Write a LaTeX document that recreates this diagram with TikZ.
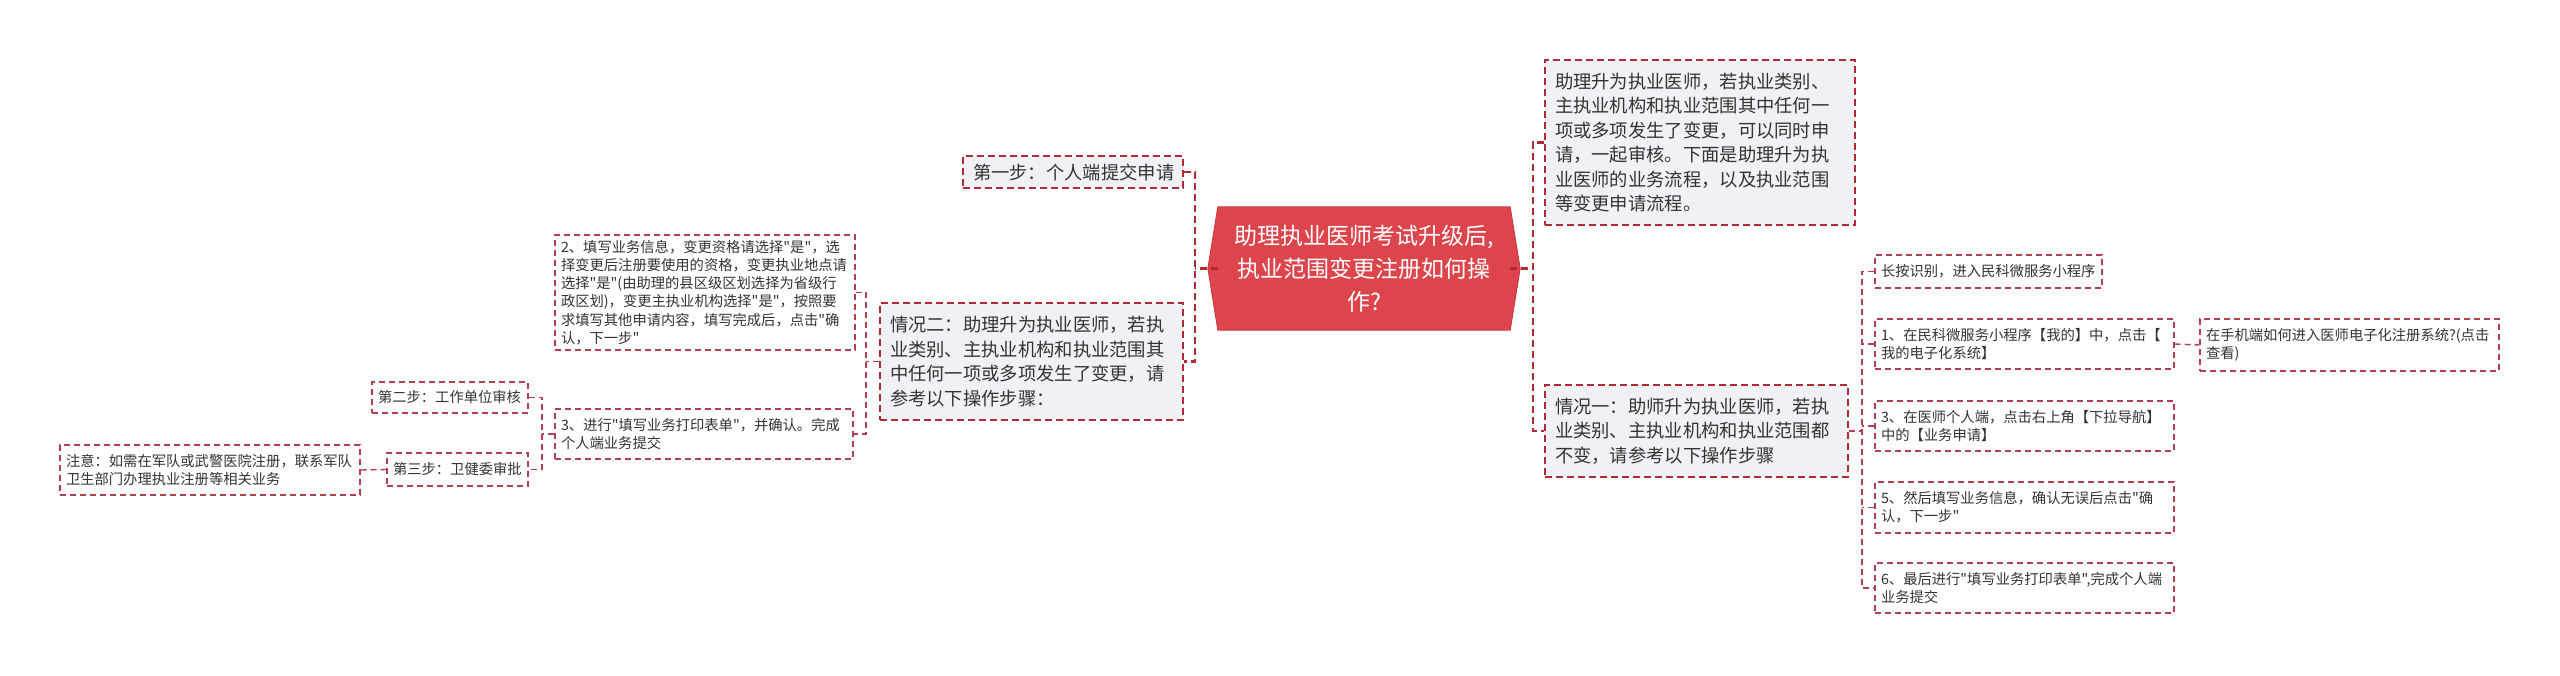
\documentclass[tikz,border=0pt]{standalone}
\usepackage{fontspec}
\setmainfont{Noto Sans CJK SC}[Ligatures=TeXOff]
\usetikzlibrary{backgrounds}
\definecolor{rootred}{RGB}{221,69,76}
\definecolor{rootedge}{RGB}{200,55,62}
\definecolor{lineA}{RGB}{178,40,52}
\definecolor{lineB}{RGB}{180,62,82}
\definecolor{boxgrey}{RGB}{239,241,244}
\definecolor{txt}{RGB}{51,51,51}
\tikzset{
 lvone/.style={draw=lineA, line width=1.6pt, dash pattern=on 7pt off 4pt, fill=boxgrey, text=txt, inner xsep=10pt, inner ysep=0pt, align=left, font=\fontsize{18.3}{24.5}\selectfont},
 lvtwo/.style={draw=lineB, line width=1.3pt, dash pattern=on 6pt off 4pt, text=txt, inner xsep=6pt, inner ysep=0pt, align=left, font=\fontsize{14.3}{18.3}\selectfont},
 linkA/.style={draw=lineA, line width=2.4pt, dash pattern=on 7pt off 4pt},
 linkB/.style={draw=lineB, line width=1.4pt, dash pattern=on 6pt off 4pt},
 rootnode/.style={text=white, align=center, inner sep=0pt, font=\fontsize{23}{33}\selectfont, minimum width=292pt, minimum height=123pt},
}
\begin{document}
\begin{tikzpicture}[x=1pt,y=-1pt]
\useasboundingbox (0,0) rectangle (2560,675);
% root
\node[rootnode] (root) at (1364,268.5) {助理执业医师考试升级后,\\执业范围变更注册如何操\\作?};
\begin{scope}[on background layer]
\fill[white] (0,0) rectangle (2560,675);
\fill[rootred, draw=rootedge, line width=0.8pt] (root.north west) -- (root.north east) -- ([xshift=10pt]root.east) -- (root.south east) -- (root.south west) -- ([xshift=-10pt]root.west) -- cycle;
\end{scope}
% left level 1
\node[lvone, text width=200pt, minimum width=220pt, minimum height=32pt] (s1) at (1073,172) {第一步：个人端提交申请};
\node[lvone, text width=283pt, minimum width=303pt, minimum height=117pt] (q2) at (1031.5,361.5) {情况二：助理升为执业医师，若执\\业类别、主执业机构和执业范围其\\中任何一项或多项发生了变更，请\\参考以下操作步骤：};
% left level 2
\node[lvtwo, text width=288pt, minimum width=300pt, minimum height=115pt] (t2) at (705,292.5) {2、填写业务信息，变更资格请选择"是"，选\\择变更后注册要使用的资格，变更执业地点请\\选择"是"(由助理的县区级区划选择为省级行\\政区划)，变更主执业机构选择"是"，按照要\\求填写其他申请内容，填写完成后，点击"确\\认，下一步"};
\node[lvtwo, text width=286pt, minimum width=298pt, minimum height=50pt] (t3) at (704,434) {3、进行"填写业务打印表单"，并确认。完成\\个人端业务提交};
% left level 3
\node[lvtwo, text width=144pt, minimum width=156pt, minimum height=31pt] (st2) at (450,397.5) {第二步：工作单位审核};
\node[lvtwo, text width=129pt, minimum width=141pt, minimum height=33pt] (st3) at (457.5,469.5) {第三步：卫健委审批};
\node[lvtwo, text width=288pt, minimum width=300pt, minimum height=50pt] (note) at (210,470) {注意：如需在军队或武警医院注册，联系军队\\卫生部门办理执业注册等相关业务};
% right level 1
\node[lvone, text width=290pt, minimum width=310pt, minimum height=165pt] (a1) at (1700,142.5) {助理升为执业医师，若执业类别、\\主执业机构和执业范围其中任何一\\项或多项发生了变更，可以同时申\\请，一起审核。下面是助理升为执\\业医师的业务流程，以及执业范围\\等变更申请流程。};
\node[lvone, text width=283pt, minimum width=303pt, minimum height=92pt] (q1) at (1696.5,431) {情况一：助师升为执业医师，若执\\业类别、主执业机构和执业范围都\\不变，请参考以下操作步骤};
% right level 2
\node[lvtwo, text width=215pt, minimum width=227pt, minimum height=33pt] (r0) at (1988.5,271.5) {长按识别，进入民科微服务小程序};
\node[lvtwo, text width=287pt, minimum width=299pt, minimum height=50pt] (r1) at (2024.5,344) {1、在民科微服务小程序【我的】中，点击【\\我的电子化系统】};
\node[lvtwo, text width=287pt, minimum width=299pt, minimum height=52pt] (rx) at (2349.5,345) {在手机端如何进入医师电子化注册系统?(点击\\查看)};
\node[lvtwo, text width=287pt, minimum width=299pt, minimum height=50pt] (r3) at (2024.5,426) {3、在医师个人端，点击右上角【下拉导航】\\中的【业务申请】};
\node[lvtwo, text width=287pt, minimum width=299pt, minimum height=51pt] (r5) at (2024.5,507.5) {5、然后填写业务信息，确认无误后点击"确\\认，下一步"};
\node[lvtwo, text width=287pt, minimum width=299pt, minimum height=50pt] (r6) at (2024.5,588) {6、最后进行"填写业务打印表单",完成个人端\\业务提交};
% junction coordinates
\coordinate (jl) at (1195,0);
\coordinate (jr) at (1533,0);
\coordinate (jl2) at (866,0);
\coordinate (jl3) at (542,0);
\coordinate (jr2) at (1862,0);
% connectors
\draw[linkA] (root.west) -- ([xshift=-10pt]root.west) -- (jl |- root.west);
\draw[linkA] (s1.east) -| (jl |- root.west) |- (q2.east);
\draw[linkA] (root.east) -- ([xshift=10pt]root.east) -- (jr |- root.east);
\draw[linkA] (a1.west) -| (jr |- root.east) |- (q1.west);
\draw[linkB] (t2.east) -| (jl2 |- q2.west) |- (t3.east);
\draw[linkB] (q2.west) -- (jl2 |- q2.west);
\draw[linkB] (st2.east) -| (jl3 |- t3.west) |- (st3.east);
\draw[linkB] (t3.west) -- (jl3 |- t3.west);
\draw[linkB] (note.east) -- (st3.west);
\draw[linkB] (r0.west) -| (jr2 |- q1.east) |- (r6.west);
\draw[linkB] (q1.east) -- (jr2 |- q1.east);
\draw[linkB] (r1.west) -- (jr2 |- r1.west);
\draw[linkB] (r3.west) -- (jr2 |- r3.west);
\draw[linkB] (r5.west) -- (jr2 |- r5.west);
\draw[linkB] (r1.east) -- (rx.west);
\end{tikzpicture}
\end{document}
